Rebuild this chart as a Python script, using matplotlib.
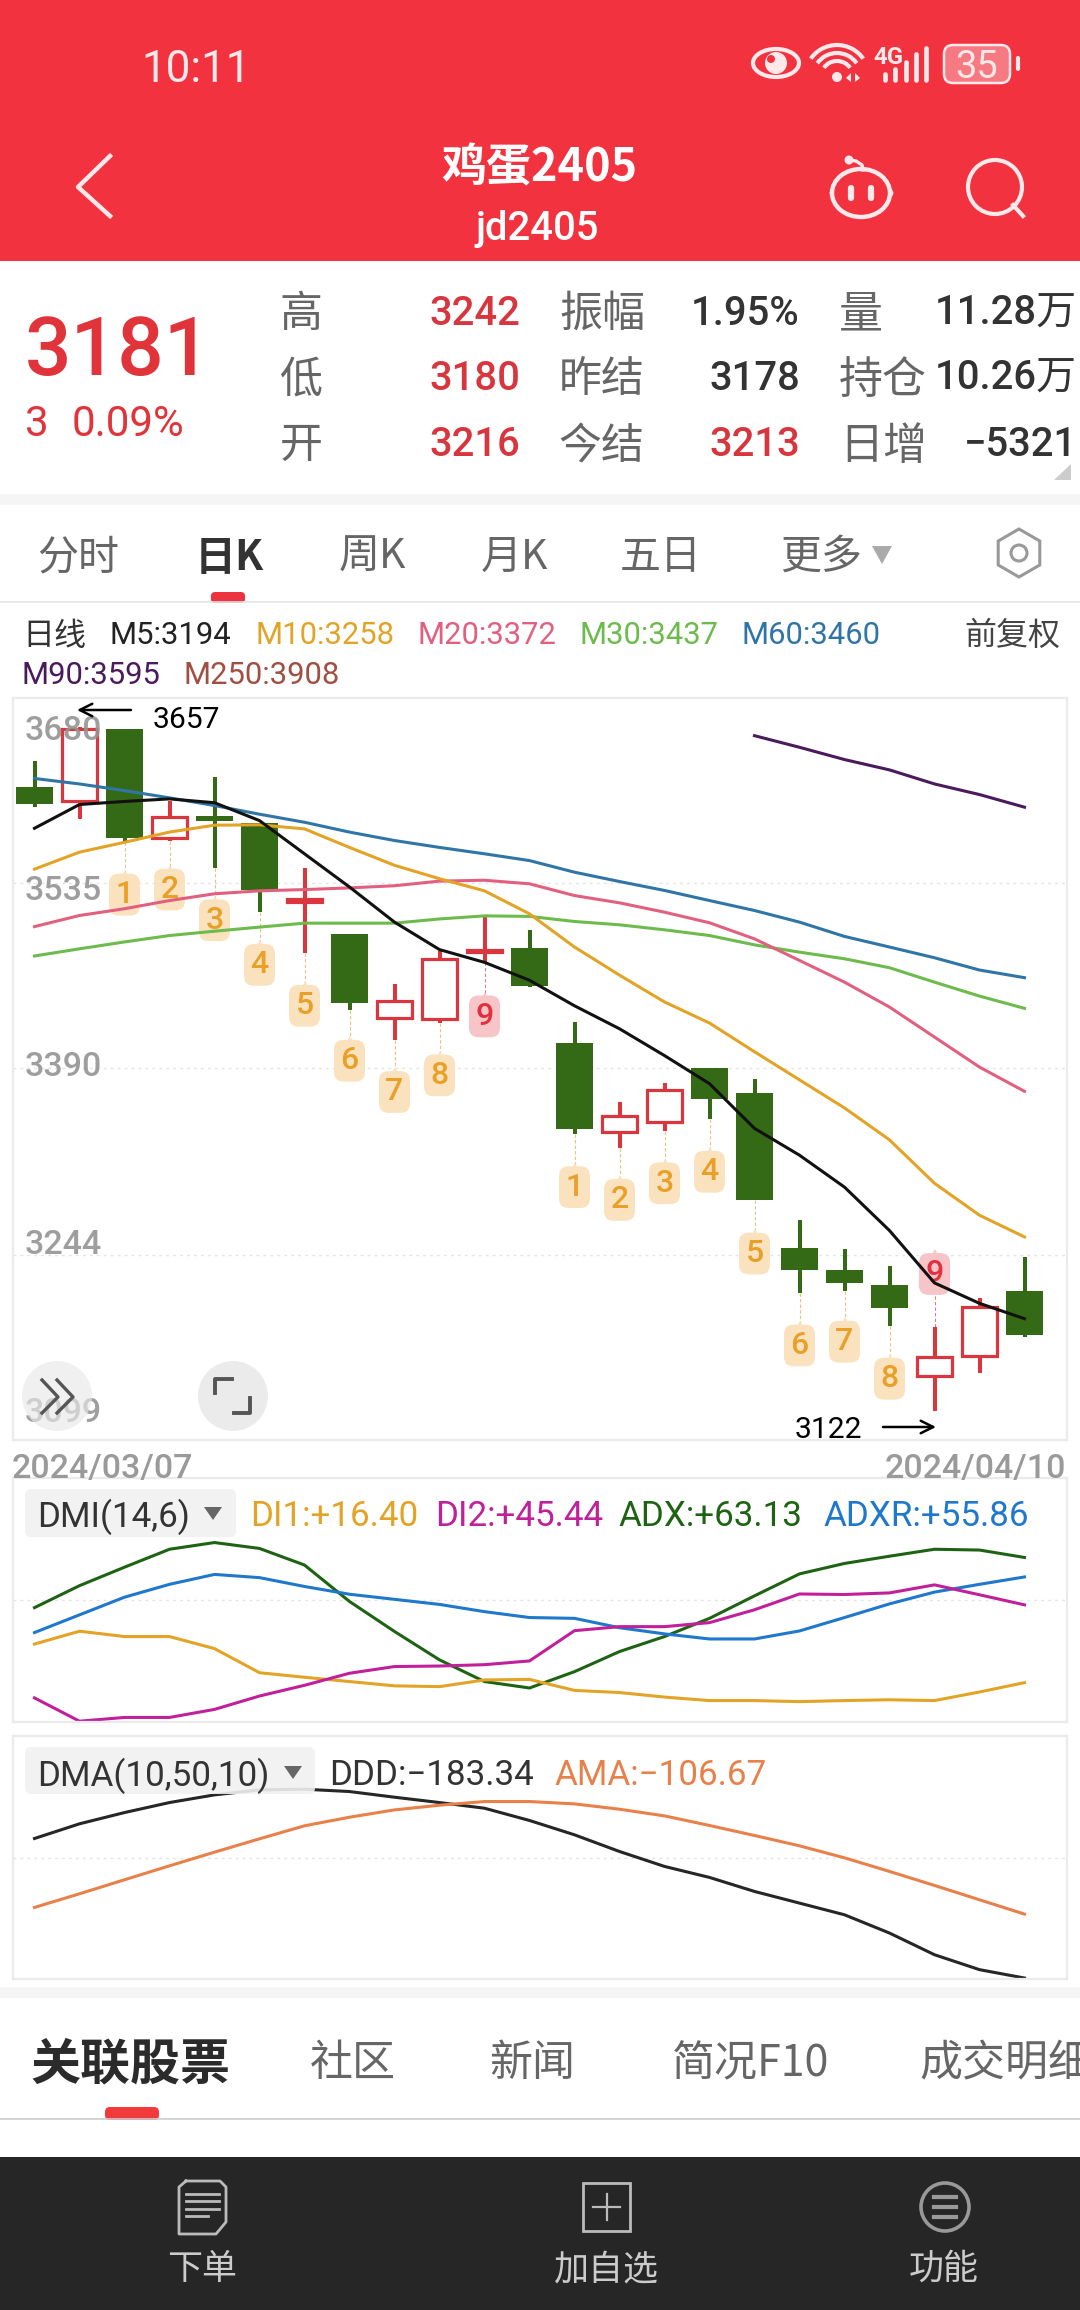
import matplotlib
matplotlib.use('Agg')
import matplotlib.pyplot as plt
from matplotlib.patches import Rectangle, Circle, Ellipse, Arc, FancyBboxPatch, Polygon, RegularPolygon

W, H = 1080, 2310

CJK = ['Noto Sans CJK SC', 'DejaVu Sans']
NUM = ['Roboto', 'Noto Sans CJK SC', 'DejaVu Sans']

# K line data
opens = [3610, 3599, 3656, 3570, 3587.7, 3582, 3520.5, 3495, 3429.6, 3429, 3481, 3484,
         3410, 3340.4, 3347.7, 3390, 3370.4, 3249.7, 3232.5, 3220, 3149.5, 3164.6, 3216]
highs = [3631, 3657, 3656, 3599, 3618.5, 3582, 3546.5, 3495, 3456, 3482, 3509, 3498,
         3426, 3364, 3378.5, 3390, 3382, 3271, 3248.4, 3235.6, 3187.6, 3210.5, 3242]
lows = [3594.5, 3585, 3567, 3568, 3546.7, 3512.3, 3480, 3436, 3412, 3425.5, 3473, 3453.6,
        3338.6, 3328, 3341, 3350.3, 3287, 3214, 3216, 3188, 3122, 3151.6, 3180]
closes = [3597, 3655.5, 3570, 3587, 3583.5, 3530, 3522.7, 3441, 3443, 3475.5, 3483, 3454.4,
          3342.5, 3353, 3373, 3366, 3287, 3232, 3222, 3202, 3163.6, 3203, 3181]

m5 = [3578, 3596.6, 3599, 3601, 3598, 3584, 3558, 3532, 3504.5, 3483, 3473, 3459,
      3439, 3421, 3400, 3378, 3343, 3322, 3297, 3263, 3222, 3206, 3194]
m10 = [3546, 3559.3, 3567, 3575, 3580.4, 3580.7, 3577.5, 3563, 3549, 3538.5, 3529, 3511,
       3485, 3463, 3442, 3425.5, 3403, 3381, 3359, 3334, 3300, 3275, 3258]
m20 = [3501, 3509.7, 3515, 3521.4, 3526.7, 3529, 3530, 3531.3, 3533, 3536.6, 3537.3, 3534.5,
       3525.3, 3519.6, 3512.3, 3504, 3491.4, 3474.5, 3457.5, 3438, 3414.5, 3391, 3372]
m30 = [3478, 3483.6, 3489, 3494, 3497.4, 3500.6, 3503.7, 3503.7, 3503.7, 3507, 3509.4, 3509,
       3505, 3502.4, 3498.5, 3494, 3486.7, 3481, 3475.8, 3468.8, 3457.5, 3446.6, 3437]
m60 = [3617, 3612.7, 3607.5, 3601.8, 3595.8, 3589, 3582.7, 3575, 3568.4, 3563, 3558, 3552.7,
       3543.6, 3536.3, 3529.3, 3521.4, 3513.6, 3504.5, 3493.3, 3485, 3476.6, 3467, 3461]
m90 = [3650.5, 3641.4, 3631.8, 3623.7, 3612.7, 3604.4, 3594.5]
m90_start = 16

# TD count tags: candle index, number, price of tag centre
tag_idx = [2, 3, 4, 5, 6, 7, 8, 9, 10, 12, 13, 14, 15, 16, 17, 18, 19, 20]
tag_num = [1, 2, 3, 4, 5, 6, 7, 8, 9, 1, 2, 3, 4, 5, 6, 7, 8, 9]
tag_price = [3526, 3530, 3506, 3471, 3439, 3396, 3371.5, 3384.5, 3430.7,
             3297, 3287, 3300, 3309, 3245, 3173, 3176, 3147, 3229]

price_grid = [3535, 3390, 3244]

# DMI
adx = [44.4, 52.6, 59.5, 66.2, 68.7, 66.5, 60.3, 46.7, 35.5, 24.9, 16.8, 14.4,
       20.5, 28.0, 33.6, 40.4, 48.8, 57.0, 60.9, 63.6, 66.2, 65.9, 63.13]
adxr = [35.1, 41.7, 48.3, 53.1, 56.8, 55.6, 52.3, 49.4, 47.5, 45.6, 42.9, 40.7,
        40.4, 36.9, 34.6, 32.7, 32.7, 35.7, 40.7, 45.8, 50.2, 53.1, 55.86]
di1 = [30.8, 35.6, 33.6, 33.6, 29.1, 20.1, 18.4, 16.8, 15.2, 14.9, 17.4, 17.6,
       13.5, 12.7, 11.0, 9.7, 9.7, 9.3, 9.7, 10.0, 9.7, 12.9, 16.4]
di2 = [10.7, 2.0, 3.4, 3.4, 6.4, 11.4, 15.4, 19.9, 22.4, 22.6, 23.1, 24.5,
       35.8, 37.3, 37.3, 38.8, 43.6, 49.5, 49.3, 49.9, 52.9, 49.2, 45.44]

# DMA
ddd = [-16.0, 1.6, 15.1, 27.1, 36.3, 42.3, 43.1, 40.3, 33.5, 27.1, 20.3, 5.6,
       -11.6, -31.6, -49.5, -62.7, -79.5, -93.5, -107.5, -129.4, -155.4, -173.3, -183.34]
ama = [-98.7, -82.3, -65.5, -48.8, -32.4, -16.4, -0.8, 9.5, 18.3, 23.9, 28.3, 28.3,
       25.5, 19.1, 11.1, -0.4, -12.4, -24.8, -39.2, -55.5, -72.3, -89.5, -106.67]

RED = '#F2323E'
UP = '#D9363E'
DOWN = '#346A16'
ORANGE = '#E2A326'
PINK = '#E2607F'
LGREEN = '#6CBB4C'
BLUE = '#2F75A6'
PURPLE = '#4A1A5C'
BROWN = '#A04F42'


def px_axes(zorder):
    a = fig.add_axes([0, 0, 1, 1], zorder=zorder)
    a.set_xlim(0, W)
    a.set_ylim(H, 0)
    a.axis('off')
    a.patch.set_alpha(0)
    return a


def panel(top, bottom, ylim, grid):
    a = fig.add_axes([13 / W, 1 - bottom / H, 1054 / W, (bottom - top) / H], zorder=5)
    a.patch.set_alpha(0)
    a.set_xlim((13 - 34.5) / 45, (1067 - 34.5) / 45)
    a.set_ylim(*ylim)
    a.set_xticks([])
    a.set_yticks(grid)
    a.tick_params(length=0, labelleft=False)
    a.grid(axis='y', ls=(0, (2, 3)), color='#E4E4E4', lw=1)
    for s in a.spines.values():
        s.set_color('#EBEBEB')
        s.set_linewidth(1.6)
    return a


def txt(a, x, y, s, size, color='#333333', ha='left', family=NUM, **kw):
    a.text(x, y, s, fontsize=size * 0.72, color=color, ha=ha, va='center_baseline', family=family, **kw)


fig = plt.figure(figsize=(W / 100, H / 100), dpi=100, facecolor='white')
bg = px_axes(0)
fg = px_axes(10)

# backgrounds
bg.add_patch(Rectangle((0, 0), W, 261, fc=RED, ec='none'))
bg.add_patch(Rectangle((0, 494), W, 11, fc='#F5F5F5', ec='none'))
bg.add_patch(Rectangle((0, 1987), W, 11, fc='#F5F5F5', ec='none'))
bg.add_patch(Rectangle((0, 2157), W, 153, fc='#262626', ec='none'))
bg.plot([0, W], [602, 602], color='#E4E4E4', lw=1.2)
bg.plot([0, W], [2119, 2119], color='#CCCCCC', lw=1.2)

# status bar
WHITE2 = '#FDE8EA'
txt(bg, 196, 65, '10:11', 44, WHITE2, ha='center')
bg.add_patch(Ellipse((776, 63), 46, 28, fc='none', ec=WHITE2, lw=3))
bg.add_patch(Circle((776, 63), 11, fc=WHITE2, ec='none'))
bg.add_patch(Circle((771, 59), 4, fc=RED, ec='none'))
for r in [12, 20, 28]:
    bg.add_patch(Arc((837, 77), r * 2 + 8, r * 2 + 8, theta1=215, theta2=325, color=WHITE2, lw=3))
bg.add_patch(Circle((837, 77), 5, fc=WHITE2, ec='none'))
bg.add_patch(Polygon([(851, 73), (851, 82), (846, 78)], fc=WHITE2, ec='none'))
bg.add_patch(Polygon([(855, 73), (855, 82), (860, 78)], fc=WHITE2, ec='none'))
txt(bg, 888, 55, '4G', 24, WHITE2, ha='center', weight='bold')
for x, t in zip([885, 895, 906, 916, 926], [74, 69, 62, 54, 48]):
    bg.plot([x, x], [t, 80], color=WHITE2, lw=3.4, solid_capstyle='round')
bg.add_patch(FancyBboxPatch((948, 49), 58, 30, boxstyle='round,pad=4,rounding_size=9', fc='#F77A82', ec=WHITE2, lw=1.8))
txt(bg, 977, 64, '35', 38, WHITE2, ha='center')
bg.plot([1018, 1018], [58, 69], color=WHITE2, lw=3, solid_capstyle='round')

# title bar
bg.plot([110, 78, 110], [156, 187, 216], color=WHITE2, lw=3.2)
txt(bg, 539, 163, '鸡蛋2405', 45, 'white', ha='center', family=CJK, weight='bold')
txt(bg, 537, 225, 'jd2405', 40, 'white', ha='center', weight='medium')
bg.add_patch(Circle((834, 193), 3, fc='none', ec=WHITE2, lw=2))
bg.add_patch(Circle((889, 193), 3, fc='none', ec=WHITE2, lw=2))
bg.add_patch(Ellipse((861, 193), 58, 48, fc=RED, ec=WHITE2, lw=3.2))
bg.plot([851, 851], [188, 198], color=WHITE2, lw=4.5, solid_capstyle='round')
bg.plot([871, 871], [188, 198], color=WHITE2, lw=4.5, solid_capstyle='round')
bg.plot([863, 862, 856, 849], [170, 165, 161, 160], color=WHITE2, lw=2.4)
bg.add_patch(Circle((849, 160), 4.5, fc=WHITE2, ec='none'))
bg.add_patch(Circle((995, 187), 27, fc='none', ec=WHITE2, lw=3))
bg.plot([1013, 1023], [205, 216], color=WHITE2, lw=3)

# quote block
txt(bg, 25, 345, '3181', 82, '#E0343A', weight='medium')
txt(bg, 25, 420, '3', 42, '#E0343A')
txt(bg, 72, 420, '0.09%', 42, '#E0343A')
row_y = [310, 375, 441]
for y, lab, val in zip(row_y, ['高', '低', '开'], ['3242', '3180', '3216']):
    txt(bg, 301, y, lab, 43, '#666666', ha='center', family=CJK)
    txt(bg, 520, y, val, 40, '#D8363E', ha='right', weight='medium')
for y, lab, val, col in zip(row_y, ['振幅', '昨结', '今结'], ['1.95%', '3178', '3213'], ['#333333', '#333333', '#D8363E']):
    txt(bg, 559, y, lab, 43, '#666666', family=CJK)
    txt(bg, 800, y, val, 40, col, ha='right', weight='medium')
for y, lab, val in zip(row_y, ['量', '持仓', '日增'], ['11.28万', '10.26万', '−5321']):
    txt(bg, 839, y, lab, 44, '#666666', family=CJK)
    txt(bg, 1077, y, val, 40, '#333333', ha='right', weight='medium')
bg.add_patch(Polygon([(1071, 464), (1071, 480), (1054, 480)], fc='#CCCCCC', ec='none'))

# period tabs
for x, s, col, wt in zip([78, 229, 372, 515, 661, 821], ['分时', '日K', '周K', '月K', '五日', '更多'],
                         ['#666666', '#333333', '#666666', '#666666', '#666666', '#666666'],
                         ['normal', 'bold', 'normal', 'normal', 'normal', 'normal']):
    txt(bg, x, 553, s, 41, col, ha='center', family=CJK, weight=wt)
bg.add_patch(Polygon([(872, 546), (892, 546), (882, 564)], fc='#AAAAAA', ec='none'))
bg.add_patch(RegularPolygon((1019, 553), 6, radius=24, fc='none', ec='#999999', lw=2.2))
bg.add_patch(Circle((1019, 553), 8, fc='none', ec='#999999', lw=2.2))
bg.add_patch(FancyBboxPatch((214, 595), 28, 5, boxstyle='round,pad=3,rounding_size=4', fc='#EE3340', ec='none'))

# MA legend
txt(bg, 22, 632, '日线', 32, '#333333', family=CJK)
for x, s, col in zip([110, 256, 418, 580, 742], ['M5:3194', 'M10:3258', 'M20:3372', 'M30:3437', 'M60:3460'],
                     ['#222222', ORANGE, PINK, LGREEN, BLUE]):
    txt(bg, x, 632, s, 31, col)
txt(bg, 1060, 632, '前复权', 32, '#444444', ha='right', family=CJK)
txt(bg, 21, 673, 'M90:3595', 31, PURPLE)
txt(bg, 183, 673, 'M250:3908', 31, BROWN)

# kline panel
ax = panel(698, 1440, (3099, 3680), price_grid)
xs = list(range(len(closes)))
ax.vlines(xs, lows, highs, color=[UP if c > o else DOWN for o, c in zip(opens, closes)], lw=2.9, zorder=2.5)
for i in xs:
    o, c = opens[i], closes[i]
    if c > o:
        ax.bar(i, c - o, bottom=o, width=0.78, fc='white', ec=UP, lw=2.3, zorder=3)
    else:
        ax.bar(i, o - c, bottom=c, width=0.82, fc=DOWN, ec='none', zorder=3)

for i, n, p in zip(tag_idx, tag_num, tag_price):
    top = n == 9
    bc = '#F7C4C8' if top else '#FBE2BE'
    tc = '#E2303C' if top else '#E8A028'
    end = highs[i] if p > highs[i] else lows[i]
    ax.plot([i, i], [end, p], color='#D08088' if top else '#EBC080', lw=0.8, ls=(0, (3, 2)), zorder=1)
    ax.plot(i, p + 14.5, '^', ms=8, color=bc, mew=0, zorder=1.9)
    ax.text(i, p, str(n), fontsize=23, color=tc, ha='center', va='center', family=NUM, weight='medium', zorder=2,
            bbox=dict(boxstyle='round,pad=0.2,rounding_size=0.3', fc=bc, ec='none'))

ax.plot(xs, m60, color=BLUE, lw=2.2, zorder=4)
ax.plot(xs, m30, color=LGREEN, lw=2.2, zorder=4)
ax.plot(xs, m20, color=PINK, lw=2.2, zorder=4)
ax.plot(xs, m10, color=ORANGE, lw=2.2, zorder=4)
ax.plot(xs, m5, color='#111111', lw=2.2, zorder=4.5)
ax.plot(range(m90_start, m90_start + len(m90)), m90, color=PURPLE, lw=2.2, zorder=4)

# price labels lie over the panel, their spots differ a bit from the grid
for y, s in zip([728, 887, 1064, 1242, 1410], ['3680', '3535', '3390', '3244', '3099']):
    txt(fg, 25, y, s, 34, '#949494', alpha=0.9, weight='medium')

# high and low marks
fg.annotate('', xy=(77, 710), xytext=(131, 710), arrowprops=dict(arrowstyle='->,head_length=0.9,head_width=0.45', color='black', lw=1.8, shrinkA=0, shrinkB=0))
txt(fg, 153, 717, '3657', 30, 'black')
fg.annotate('', xy=(936, 1427), xytext=(883, 1427), arrowprops=dict(arrowstyle='->,head_length=0.9,head_width=0.45', color='black', lw=1.8, shrinkA=0, shrinkB=0))
txt(fg, 795, 1427, '3122', 30, 'black')

# the two round buttons
fg.add_patch(Circle((57, 1396), 35, fc='#E8E8E8', ec='none', alpha=0.65, zorder=4))
for dx in [0, 15]:
    fg.plot([42 + dx, 58 + dx, 42 + dx], [1380, 1397, 1413], color='#555555', lw=2.4, zorder=5)
fg.add_patch(Circle((233, 1396), 35, fc='#EBEBEB', ec='none', zorder=4))
fg.plot([215, 215, 232], [1393, 1379, 1379], color='#555555', lw=2.8, zorder=5)
fg.plot([250, 250, 234], [1398, 1413, 1413], color='#555555', lw=2.8, zorder=5)

txt(fg, 12, 1465, '2024/03/07', 34, '#9A9A9A', weight='medium')
txt(fg, 1066, 1465, '2024/04/10', 34, '#9A9A9A', ha='right', weight='medium')

# DMI
ax2 = panel(1478, 1722, (1.7, 92.8), [47.3])
ax2.plot(xs, adx, color='#1E6314', lw=2.2)
ax2.plot(xs, adxr, color='#1F78CC', lw=2.2)
ax2.plot(xs, di1, color=ORANGE, lw=2.2)
ax2.plot(xs, di2, color='#C0209A', lw=2.2)
fg.add_patch(FancyBboxPatch((29, 1493), 203, 40, boxstyle='round,pad=4,rounding_size=6', fc='#F1F1F1', ec='none', alpha=0.9))
txt(fg, 37, 1513, 'DMI(14,6)', 35, '#333333')
fg.add_patch(Polygon([(204, 1507), (222, 1507), (213, 1520)], fc='#666666', ec='none'))
for x, s, col in zip([250, 435, 618, 823], ['DI1:+16.40', 'DI2:+45.44', 'ADX:+63.13', 'ADXR:+55.86'],
                     [ORANGE, '#C0209A', '#1E6314', '#1F78CC']):
    txt(fg, x, 1513, s, 35, col)

# DMA
ax3 = panel(1736, 1979, (-184.5, 106.9), [-38.8])
ax3.plot(xs, ddd, color='#262626', lw=2.2)
ax3.plot(xs, ama, color='#E8804A', lw=2.2)
fg.add_patch(FancyBboxPatch((29, 1751), 282, 39, boxstyle='round,pad=4,rounding_size=6', fc='#F1F1F1', ec='none', alpha=0.9))
txt(fg, 37, 1772, 'DMA(10,50,10)', 35, '#333333')
fg.add_patch(Polygon([(284, 1766), (302, 1766), (293, 1779)], fc='#666666', ec='none'))
txt(fg, 329, 1772, 'DDD:−183.34', 35, '#333333')
txt(fg, 554, 1772, 'AMA:−106.67', 35, '#E8804A')

# bottom tabs
txt(bg, 131, 2059, '关联股票', 50, '#2B2B2B', ha='center', family=CJK, weight='bold')
txt(bg, 353, 2059, '社区', 43, '#666666', ha='center', family=CJK)
txt(bg, 532, 2059, '新闻', 43, '#666666', ha='center', family=CJK)
txt(bg, 751, 2059, '简况F10', 43, '#666666', ha='center', family=CJK)
txt(bg, 919, 2059, '成交明细', 43, '#666666', family=CJK, clip_on=True)
bg.add_patch(FancyBboxPatch((108, 2110), 48, 7, boxstyle='round,pad=3,rounding_size=5', fc='#F23A3A', ec='none'))

# toolbar
bg.plot([186, 220, 226, 226, 216, 179, 179, 186], [2181, 2181, 2187, 2222, 2234, 2234, 2187, 2181], color='#BBBBBB', lw=2)
for y, x2 in zip([2194, 2201, 2209, 2216], [219, 219, 219, 208]):
    bg.plot([186, x2], [y, y], color='#BBBBBB', lw=2)
bg.add_patch(Rectangle((583, 2183), 47, 48, fc='none', ec='#BBBBBB', lw=2))
bg.plot([593, 620], [2207, 2207], color='#BBBBBB', lw=1.6)
bg.plot([606.5, 606.5], [2194, 2220], color='#BBBBBB', lw=1.6)
bg.add_patch(Circle((945, 2207), 24, fc='none', ec='#999999', lw=2.6))
for y in [2197, 2207, 2217]:
    bg.plot([934, 956], [y, y], color='#999999', lw=3)
for x, s in zip([202, 606, 944], ['下单', '加自选', '功能']):
    txt(bg, x, 2265, s, 35, '#CCCCCC', ha='center', family=CJK)

fig.savefig('out.png', dpi=100)
